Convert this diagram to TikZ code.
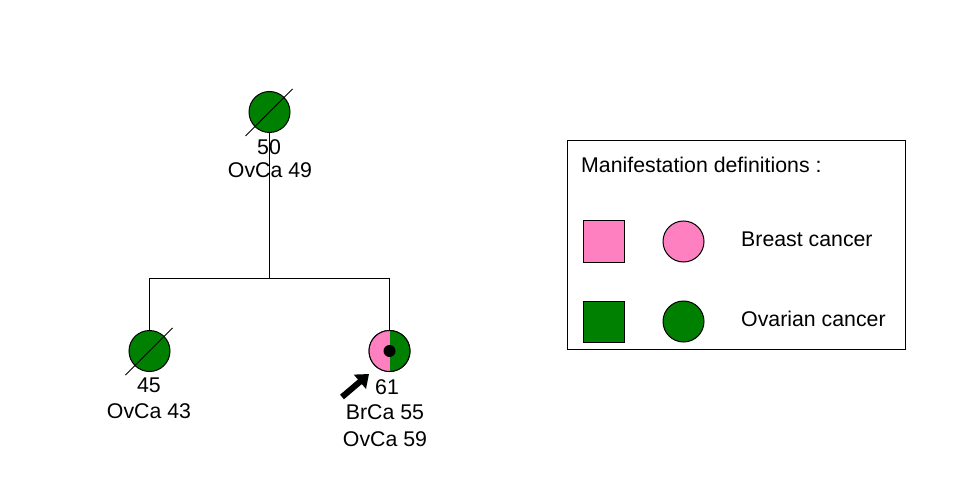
\documentclass[tikz,border=0pt]{standalone}
\usepackage{fontspec}
\setmainfont{Liberation Sans}
\usetikzlibrary{arrows.meta,calc}
\definecolor{ovgreen}{HTML}{008000}
\definecolor{brpink}{HTML}{FF80C0}
\begin{document}
\begin{tikzpicture}[x=1pt,y=-1pt,
  lbl/.style={font=\fontsize{21.3}{25}\selectfont, inner sep=0pt, anchor=center},
  fem/.style={circle, draw=black, line width=1pt, minimum size=41pt, inner sep=0pt},
  sq/.style={rectangle, draw=black, line width=1pt, minimum size=41pt, inner sep=0pt},
  conn/.style={draw=black, line width=1pt},
  slash/.style={draw=black, line width=0.9pt}]
\useasboundingbox[fill=white] (0,0) rectangle (973,494);

% individuals
\node[fem, fill=ovgreen] (gm) at (269.5,112) {};
\node[fem, fill=ovgreen] (c1) at (149.5,351) {};
\node[fem] (c2) at (389.5,351) {};
\begin{scope}
\clip (c2.center) circle[radius=20.5];
\fill[brpink] ($(c2.center)+(-21,-21)$) rectangle ($(c2.center)+(0,21)$);
\fill[ovgreen] ($(c2.center)+(0,-21)$) rectangle ($(c2.center)+(21,21)$);
\end{scope}
\draw[line width=1pt] (c2.center) circle[radius=20.5];
\fill[black] (c2.center) circle[radius=6];

% connectors
\coordinate (sib) at (269.5,278);
\coordinate (sl) at (149.5,278);
\coordinate (sr) at (389.5,278);
\draw[conn] (gm.south) -- (sib);
\draw[conn] (c1.north) -- (sl) -- (sr) -- (c2.north);

% deceased slashes
\draw[slash] ($(gm.center)+(-24,24)$) -- ($(gm.center)+(23,-23)$);
\draw[slash] ($(c1.center)+(-24,24)$) -- ($(c1.center)+(23,-23)$);

% labels
\node[lbl] (gmage) at (269,147) {50};
\node[lbl] (gmdx) at (270,170) {OvCa 49};
\node[lbl] (c1age) at (149,385) {45};
\node[lbl] (c1dx) at (149,411) {OvCa 43};
\node[lbl] (c2age) at (387,387) {61};
\node[lbl] (c2dx1) at (385,412) {BrCa 55};
\node[lbl] (c2dx2) at (385,439) {OvCa 59};

% proband arrow
\coordinate (pa0) at (342,397);
\coordinate (pa1) at (369,374);
\draw[line width=6pt, -{Triangle[length=12pt,width=18pt]}] (pa0) -- (pa1);

% legend
\node[draw=black, line width=1pt, minimum width=338pt, minimum height=208pt, inner sep=0pt] (legend) at (736,245) {};
\node[lbl, anchor=west] (legtitle) at (581,165) {Manifestation definitions :};
\node[sq, fill=brpink] (lsq1) at (603.5,241.5) {};
\node[fem, fill=brpink] (lci1) at (683.5,241.5) {};
\node[lbl, anchor=west] (ltx1) at (741,239) {Breast cancer};
\node[sq, fill=ovgreen] (lsq2) at (603.5,321.5) {};
\node[fem, fill=ovgreen] (lci2) at (683.5,321.5) {};
\node[lbl, anchor=west] (ltx2) at (741,319) {Ovarian cancer};
\end{tikzpicture}
\end{document}
